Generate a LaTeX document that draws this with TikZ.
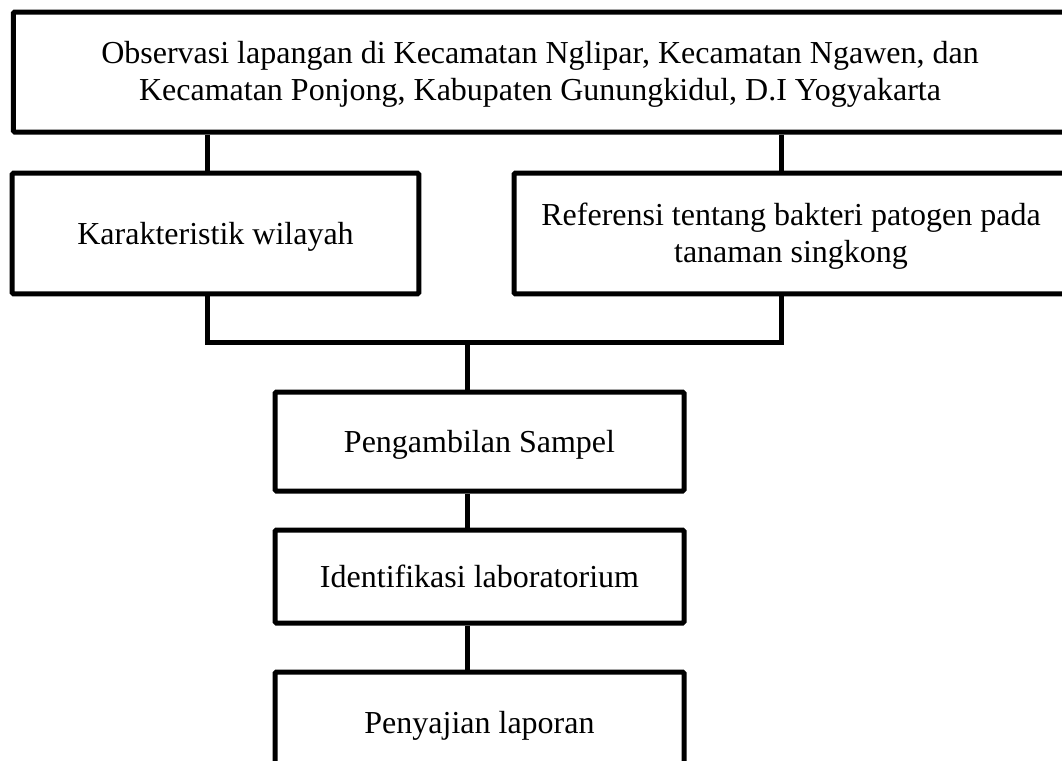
\documentclass[tikz,border=0pt]{standalone}
\usepackage{fontspec}
\setmainfont{Liberation Serif}
\usepackage{tikz}

\begin{document}
\begin{tikzpicture}[x=0.75pt,y=-0.75pt,
	kotak/.style={shape=rectangle,draw=black,line width=3.75pt,align=center,
		font=\fontsize{24}{27.75}\selectfont,rounded corners=1pt,
		text height=22pt,text depth=5pt},
	dua/.style={text height=48pt,text depth=5pt},
	garis/.style={draw=black,line width=3.75pt}]
	
	\useasboundingbox (0,0) rectangle (1062,760);
	\clip (0,0) rectangle (1062,760);
	
	\node[kotak,dua,minimum width=790pt,minimum height=90pt]   (obs)   at (540,72)    {Observasi lapangan di Kecamatan Nglipar, Kecamatan Ngawen, dan\\Kecamatan Ponjong, Kabupaten Gunungkidul, D.I Yogyakarta};
	\node[kotak,minimum width=305pt,minimum height=90.5pt] (kar)   at (215.5,233.5) {Karakteristik wilayah};
	\node[kotak,dua,minimum width=415.5pt,minimum height=90.5pt] (ref) at (791,233.5)  {Referensi tentang bakteri patogen pada\\tanaman singkong};
	\node[kotak,minimum width=306.75pt,minimum height=74.25pt] (samp)  at (479.5,441.5) {Pengambilan Sampel};
	\node[kotak,minimum width=306.75pt,minimum height=69.75pt] (ident) at (479.5,576.5) {Identifikasi laboratorium};
	\node[kotak,minimum width=306.75pt,minimum height=75pt]    (lap)   at (479.5,722)   {Penyajian laporan};
	
	\coordinate (busl) at (207,342);
	\coordinate (busr) at (781,342);
	\coordinate (busm) at (467,342);
	
	\path[garis] (obs.south -| busl) -- (kar.north -| busl);
	\path[garis] (obs.south -| busr) -- (ref.north -| busr);
	\path[garis] (kar.south -| busl) -- (busl) -- (busr) -- (ref.south -| busr);
	\path[garis] (busm) -- (samp.north -| busm);
	\path[garis] (samp.south -| busm) -- (ident.north -| busm);
	\path[garis] (ident.south -| busm) -- (lap.north -| busm);
	
\end{tikzpicture}
\end{document}
